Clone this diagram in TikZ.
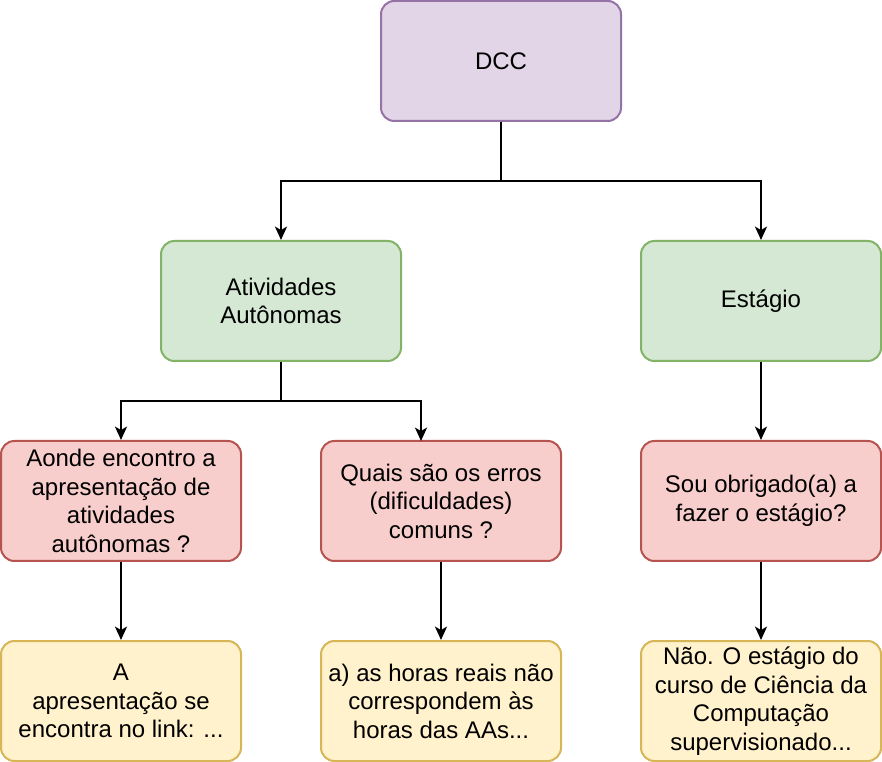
\documentclass[tikz,border=0pt]{standalone}
\usepackage{fontspec}
\setmainfont{Liberation Sans}
\usetikzlibrary{arrows.meta}
\definecolor{pfill}{HTML}{E1D5E7}\definecolor{pdraw}{HTML}{9673A6}
\definecolor{gfill}{HTML}{D5E8D4}\definecolor{gdraw}{HTML}{82B366}
\definecolor{rfill}{HTML}{F8CECC}\definecolor{rdraw}{HTML}{B85450}
\definecolor{yfill}{HTML}{FFF2CC}\definecolor{ydraw}{HTML}{D6B656}
\tikzset{
  box/.style={rectangle, rounded corners=10pt, line width=1.5pt, minimum width=180pt, minimum height=90pt,
    align=center, inner sep=0pt, font=\fontsize{18}{21.4}\selectfont},
  pbox/.style={box, fill=pfill, draw=pdraw},
  gbox/.style={box, fill=gfill, draw=gdraw},
  rbox/.style={box, fill=rfill, draw=rdraw},
  ybox/.style={box, fill=yfill, draw=ydraw},
  arr/.style={line width=1.5pt, -{Stealth[length=10pt, width=9pt, inset=2.5pt]}},
}
\begin{document}
\begin{tikzpicture}[x=0.75pt, y=-0.75pt]
\useasboundingbox (0,0) rectangle (882,762);
\node[pbox] (dcc) at (501,61) {DCC};
\node[gbox] (aa) at (281,301) {Atividades\\Autônomas};
\node[gbox] (est) at (761,301) {Estágio};
\node[rbox] (r1) at (121,501) {Aonde encontro a\\apresentação de\\atividades\\autônomas ?};
\node[rbox] (r2) at (441,501) {Quais são os erros\\(dificuldades)\\comuns ?};
\node[rbox] (r3) at (761,501) {Sou obrigado(a) a\\fazer o estágio?};
\node[ybox] (y1) at (121,701) {A\\apresentação se\\encontra no link: ...};
\node[ybox] (y2) at (441,701) {a) as horas reais não\\correspondem às\\horas das AAs...};
\node[ybox] (y3) at (761,701) {Não. O estágio do\\curso de Ciência da\\Computação\\supervisionado...};
\coordinate (j1) at (501,181);
\coordinate (j2) at (281,401);
\coordinate (t2) at (421,441);
\draw[arr] (dcc.south) -- (j1) -| (aa.north);
\draw[arr] (dcc.south) -- (j1) -| (est.north);
\draw[arr] (aa.south) -- (j2) -| (r1.north);
\draw[arr] (aa.south) -- (j2) -| (t2);
\draw[arr] (est.south) -- (r3.north);
\draw[arr] (r1.south) -- (y1.north);
\draw[arr] (r2.south) -- (y2.north);
\draw[arr] (r3.south) -- (y3.north);
\end{tikzpicture}
\end{document}
